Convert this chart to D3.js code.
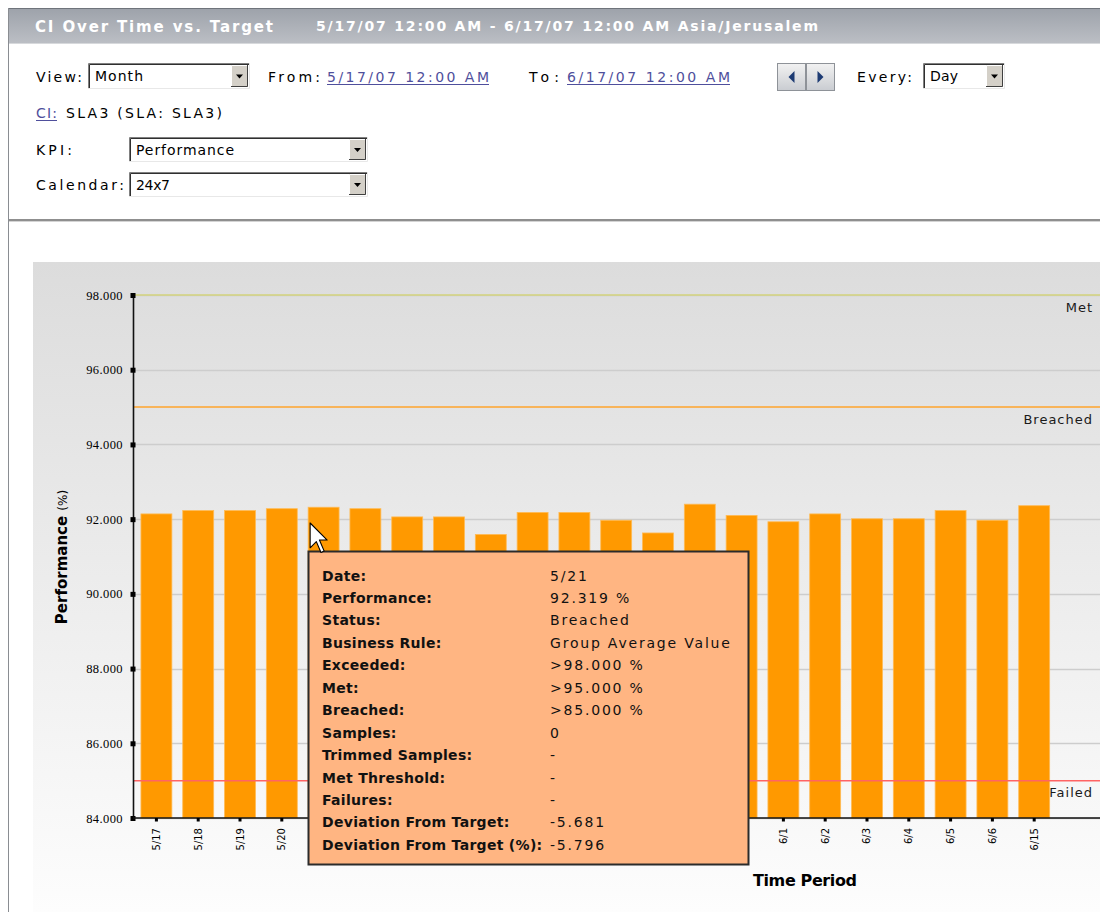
<!DOCTYPE html>
<html>
<head>
<meta charset="utf-8">
<script src="https://cdn.jsdelivr.net/npm/d3@7"></script>
<style>
  body { margin: 0; background: #fff; }
  svg { display: block; }
</style>
</head>
<body>
<script>
// Daily SLA3 performance (%) against its Met / Breached / Failed targets
const dates = ["5/17","5/18","5/19","5/20","5/21","5/22","5/23","5/24","5/25","5/26","5/27",
               "5/28","5/29","5/30","5/31","6/1","6/2","6/3","6/4","6/5","6/6","6/15"];
const performance = [92.14, 92.23, 92.23, 92.28, 92.319, 92.28, 92.06, 92.06, 91.59, 92.18, 92.18,
                     91.97, 91.63, 92.40, 92.10, 91.93, 92.14, 92.01, 92.01, 92.23, 91.97, 92.36];
const yTicks = [84, 86, 88, 90, 92, 94, 96, 98];
const targetNames = ["Met", "Breached", "Failed"];
const targetValues = [98, 95, 85];
const targetColors = ["#d3d37c", "#ffa52c", "#ff6464"];

// Details shown for the hovered day
const hoverIndex = 4;
const tipLabels = ["Date:", "Performance:", "Status:", "Business Rule:", "Exceeded:", "Met:",
                   "Breached:", "Samples:", "Trimmed Samples:", "Met Threshold:", "Failures:",
                   "Deviation From Target:", "Deviation From Target (%):"];
const tipValues = [dates[hoverIndex], performance[hoverIndex].toFixed(3) + " %", "Breached",
                   "Group Average Value", ">98.000 %", ">95.000 %", ">85.000 %", "0", "-", "-", "-",
                   "-5.681", "-5.796"];

const W = 1100, H = 912;
const svg = d3.select("body").append("svg").attr("width", W).attr("height", H);
const defs = svg.append("defs");

const hdrGrad = defs.append("linearGradient").attr("id", "hdr").attr("x1", 0).attr("y1", 0).attr("x2", 0).attr("y2", 1);
hdrGrad.append("stop").attr("offset", 0).attr("stop-color", "#9da2aa");
hdrGrad.append("stop").attr("offset", 1).attr("stop-color", "#bcbfc5");

const panelGrad = defs.append("linearGradient").attr("id", "panel").attr("x1", 0).attr("y1", 0).attr("x2", 0).attr("y2", 1);
panelGrad.append("stop").attr("offset", 0).attr("stop-color", "#dcdcdc");
panelGrad.append("stop").attr("offset", 1).attr("stop-color", "#fdfdfd");

const btnGrad = defs.append("linearGradient").attr("id", "btn").attr("x1", 0).attr("y1", 0).attr("x2", 0).attr("y2", 1);
btnGrad.append("stop").attr("offset", 0).attr("stop-color", "#f2f2f2");
btnGrad.append("stop").attr("offset", 1).attr("stop-color", "#c9ccd1");

const SANS = "'DejaVu Sans', Verdana, sans-serif";

function text(g, x, y, s, opts = {}) {
  const t = g.append("text").attr("x", x).attr("y", y).text(s)
    .attr("font-family", opts.family || SANS)
    .attr("font-size", opts.size || 14)
    .attr("font-weight", opts.weight || "normal")
    .attr("fill", opts.fill || "#000");
  if (opts.width) t.attr("textLength", opts.width).attr("lengthAdjust", "spacing");
  if (opts.spacing) t.attr("letter-spacing", opts.spacing);
  if (opts.anchor) t.attr("text-anchor", opts.anchor);
  return t;
}

// ---------- window frame & title bar ----------
svg.append("line").attr("x1", 8.5).attr("x2", 8.5).attr("y1", 8).attr("y2", H)
  .attr("stroke", "#8a8d92").attr("stroke-width", 1);
svg.append("rect").attr("x", 9).attr("y", 8).attr("width", W - 9).attr("height", 36).attr("fill", "url(#hdr)");
svg.append("line").attr("x1", 9).attr("x2", W).attr("y1", 8.5).attr("y2", 8.5).attr("stroke", "#6f747b");
svg.append("line").attr("x1", 9).attr("x2", W).attr("y1", 43.5).attr("y2", 43.5).attr("stroke", "#d7d9dc");
text(svg, 35, 32, "CI Over Time vs. Target", { size: 15, weight: "bold", fill: "#fff", width: 238 });
text(svg, 316, 31, "5/17/07 12:00 AM - 6/17/07 12:00 AM Asia/Jerusalem", { size: 14, weight: "bold", fill: "#fff", width: 502 });

// ---------- controls ----------
const ctl = svg.append("g");
const LINK = "#4f4f9c";

function link(x, y, s, w) {
  text(ctl, x, y, s, { fill: LINK, width: w });
  ctl.append("line").attr("x1", x).attr("x2", x + w).attr("y1", y + 2.5).attr("y2", y + 2.5)
    .attr("stroke", LINK).attr("stroke-width", 1);
}

function selectBox(x, y, w, h, label, lw) {
  const g = ctl.append("g");
  g.append("rect").attr("x", x).attr("y", y).attr("width", w).attr("height", h).attr("fill", "#fff");
  // sunken border
  g.append("path").attr("d", `M${x + 0.5},${y + h} V${y + 0.5} H${x + w}`).attr("fill", "none").attr("stroke", "#808080");
  g.append("path").attr("d", `M${x + 1.5},${y + h - 1} V${y + 1.5} H${x + w - 1}`).attr("fill", "none").attr("stroke", "#303030");
  g.append("path").attr("d", `M${x},${y + h - 0.5} H${x + w - 0.5} V${y}`).attr("fill", "none").attr("stroke", "#e8e8e8");
  // drop button
  const bx = x + w - 19, by = y + 2, bw = 17, bh = h - 4;
  g.append("rect").attr("x", bx).attr("y", by).attr("width", bw).attr("height", bh).attr("fill", "#d4d0c8");
  g.append("path").attr("d", `M${bx + 0.5},${by + bh} V${by + 0.5} H${bx + bw}`).attr("fill", "none").attr("stroke", "#fff");
  g.append("path").attr("d", `M${bx},${by + bh - 0.5} H${bx + bw - 0.5} V${by}`).attr("fill", "none").attr("stroke", "#404040");
  const cx = bx + bw / 2, cy = by + bh / 2;
  g.append("path").attr("d", `M${cx - 3.5},${cy - 1.5} H${cx + 3.5} L${cx},${cy + 2.5} Z`).attr("fill", "#000");
  text(g, x + 7, y + h / 2 + 5, label, { width: lw });
}

text(ctl, 36, 82, "View:", { width: 46 });
selectBox(88, 63, 162, 26, "Month", 48);
text(ctl, 268, 82, "From:", { width: 52 });
link(327, 82, "5/17/07 12:00 AM", 162);
text(ctl, 529, 82, "To:", { width: 30 });
link(567, 82, "6/17/07 12:00 AM", 163);

// previous / next period buttons
[[777, -1], [806, 1]].forEach(([bx, dir]) => {
  ctl.append("rect").attr("x", bx + 0.5).attr("y", 63.5).attr("width", 28).attr("height", 27)
    .attr("fill", "url(#btn)").attr("stroke", "#8e9298");
  const cx = bx + 14.5, cy = 77;
  const d = dir < 0
    ? `M${cx + 3},${cy - 6} V${cy + 6} L${cx - 3},${cy} Z`
    : `M${cx - 3},${cy - 6} V${cy + 6} L${cx + 3},${cy} Z`;
  ctl.append("path").attr("d", d).attr("fill", "#1d3b73");
});

text(ctl, 857, 82, "Every:", { width: 55 });
selectBox(923, 63, 82, 26, "Day", 28);

link(36, 118, "CI:", 21);
text(ctl, 66, 118, "SLA3 (SLA: SLA3)", { width: 156 });
text(ctl, 36, 155, "KPI:", { width: 36 });
selectBox(129, 137, 239, 25, "Performance", 98);
text(ctl, 36, 190, "Calendar:", { width: 88 });
selectBox(129, 172, 239, 25, "24x7", 34);

svg.append("line").attr("x1", 9).attr("x2", W).attr("y1", 220).attr("y2", 220).attr("stroke", "#8f8f8f").attr("stroke-width", 2);
svg.append("line").attr("x1", 9).attr("x2", W).attr("y1", 221.5).attr("y2", 221.5).attr("stroke", "#d4d4d4").attr("stroke-width", 1);

// ---------- chart ----------
svg.append("rect").attr("x", 33).attr("y", 262).attr("width", W - 33).attr("height", H - 262).attr("fill", "url(#panel)");

const plotLeft = 133, plotRight = W;
const y = d3.scaleLinear().domain([84, 98]).range([818, 295]);
const x = d3.scaleBand().domain(dates).range([plotLeft, 1057.6]).paddingInner(0.26).paddingOuter(0.19);

const chart = svg.append("g");

// horizontal grid
chart.append("g").selectAll("line").data(yTicks).join("line")
  .attr("x1", plotLeft).attr("x2", plotRight)
  .attr("y1", d => Math.round(y(d)) + 0.5).attr("y2", d => Math.round(y(d)) + 0.5)
  .attr("stroke", "#cdcdcd").attr("stroke-width", 1.5);

// bars
chart.append("g").selectAll("rect").data(performance).join("rect")
  .attr("x", (d, i) => x(dates[i]))
  .attr("width", x.bandwidth())
  .attr("y", d => y(d))
  .attr("height", d => y(84) - y(d))
  .attr("fill", "#ff9900")
  .attr("stroke", "#ffbb55").attr("stroke-width", 0.8);

// target lines with their names
const targets = chart.append("g");
targetValues.forEach((v, i) => {
  targets.append("line").attr("x1", plotLeft).attr("x2", plotRight)
    .attr("y1", y(v)).attr("y2", y(v))
    .attr("stroke", targetColors[i]).attr("stroke-width", 1.5);
  text(targets, 1093, y(v) + 16.5, targetNames[i], { size: 13, anchor: "end", spacing: 1, fill: "#1a1a1a" });
});

// y axis
const yAxis = chart.append("g").attr("transform", `translate(${plotLeft},0)`)
  .call(d3.axisLeft(y).tickValues(yTicks).tickFormat(d3.format(".3f")).tickSize(0).tickPadding(10));
yAxis.select(".domain").attr("stroke", "#111").attr("stroke-width", 1.6);
yAxis.selectAll("text")
  .attr("font-family", "'Liberation Serif', 'Times New Roman', serif")
  .attr("font-size", 12.5).attr("letter-spacing", 0.4).attr("fill", "#000");
yAxis.selectAll(".tick").append("rect").attr("x", -2.5).attr("y", -2.5).attr("width", 5).attr("height", 5).attr("fill", "#000");

// x axis
chart.append("line").attr("x1", plotLeft).attr("x2", plotRight).attr("y1", 818).attr("y2", 818)
  .attr("stroke", "#111").attr("stroke-width", 1.6);
const xAxis = chart.append("g").attr("transform", "translate(0,818)")
  .call(d3.axisBottom(x).tickSize(0).tickPadding(0));
xAxis.select(".domain").remove();
xAxis.selectAll(".tick").append("rect").attr("x", -1.5).attr("y", 0).attr("width", 3).attr("height", 3.5).attr("fill", "#000");
xAxis.selectAll("text")
  .attr("font-family", SANS).attr("font-size", 10).attr("fill", "#000")
  .attr("transform", "rotate(-90)")
  .attr("text-anchor", "end").attr("x", -10).attr("y", 0).attr("dy", "0.35em");

// axis titles
const yTitle = chart.append("text").attr("transform", "translate(67,557) rotate(-90)")
  .attr("text-anchor", "middle").attr("font-family", SANS).attr("fill", "#000");
yTitle.append("tspan").attr("font-size", 15).attr("font-weight", "bold").text("Performance ");
yTitle.append("tspan").attr("font-size", 12).text("(%)");
text(chart, 753, 886, "Time Period", { size: 16, weight: "bold", width: 104 });

// ---------- hover details ----------
const tip = svg.append("g");
tip.append("rect").attr("x", 308.5).attr("y", 551.5).attr("width", 440).attr("height", 313)
  .attr("fill", "#ffb582").attr("stroke", "#2b2b2b").attr("stroke-width", 2);
tipLabels.forEach((lab, i) => {
  const by = 580.5 + i * 22.45;
  text(tip, 322, by, lab, { size: 14, weight: "bold", spacing: 0.3, fill: "#111" });
  text(tip, 550, by, tipValues[i], { size: 14, spacing: 1.8, fill: "#111" });
});

// mouse pointer over the hovered bar
const arrow = [[0, 0], [0, 16], [4, 12], [7, 19], [9, 18], [6, 11], [11, 11]];
const px = x(dates[hoverIndex]) + 2, py = 523;
svg.append("path")
  .attr("d", "M" + arrow.map(([a, b]) => `${px + a * 1.55},${py + b * 1.55}`).join("L") + "Z")
  .attr("fill", "#fff").attr("stroke", "#000").attr("stroke-width", 1.1).attr("stroke-linejoin", "round");
</script>
</body>
</html>
